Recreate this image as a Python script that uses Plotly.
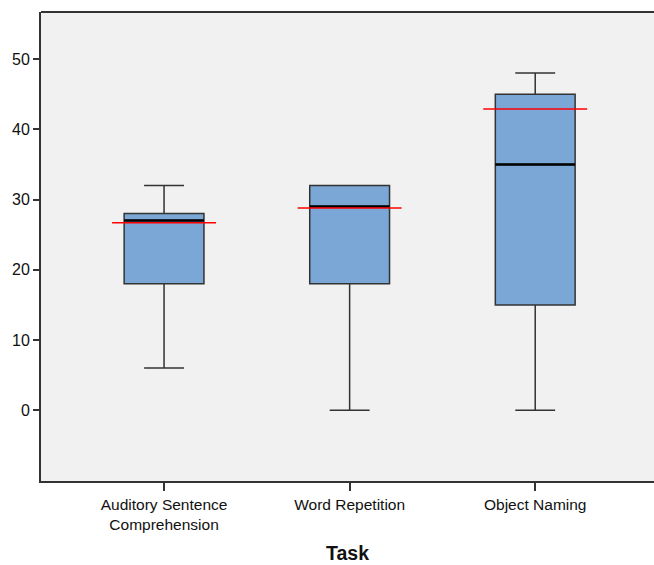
import plotly.graph_objects as go

categories = ["Auditory Sentence<br>Comprehension", "Word Repetition", "Object Naming"]
lower_whisker = [6, 0, 0]
q1 = [18, 18, 15]
median = [27, 29, 35]
q3 = [28, 32, 45]
upper_whisker = [32, 32, 48]
mean = [26.7, 28.8, 42.9]
y_ticks = [0, 10, 20, 30, 40, 50]

xpos = list(range(len(categories)))
box_w = 0.43
red_half = 0.28

fig = go.Figure()
fig.add_trace(go.Box(
    x=xpos, q1=q1, median=median, q3=q3,
    lowerfence=lower_whisker, upperfence=upper_whisker,
    width=box_w, whiskerwidth=0.5,
    fillcolor="#7aa7d6", line=dict(color="#333333", width=1.5),
    boxpoints=False, showlegend=False, hoverinfo="skip",
))
for i, x in enumerate(xpos):
    fig.add_trace(go.Scatter(
        x=[x - box_w / 2, x + box_w / 2], y=[median[i], median[i]],
        mode="lines", line=dict(color="#000000", width=2.5),
        showlegend=False, hoverinfo="skip"))
    fig.add_trace(go.Scatter(
        x=[x - red_half, x + red_half], y=[mean[i], mean[i]],
        mode="lines", line=dict(color="#ff0000", width=1.5),
        showlegend=False, hoverinfo="skip"))

fig.update_layout(
    width=654, height=565,
    margin=dict(l=41, r=0, t=12, b=84, autoexpand=False),
    paper_bgcolor="white", plot_bgcolor="#f1f1f1",
    font=dict(family="Liberation Sans, Arial, sans-serif", color="#111111"),
    xaxis=dict(
        range=[-0.663, 2.64], tickmode="array", tickvals=xpos, ticktext=categories,
        ticks="outside", ticklen=8, tickwidth=1.5, tickcolor="#333333",
        showline=True, linecolor="#333333", linewidth=2, showgrid=False, zeroline=False,
        tickfont=dict(size=15.5), automargin=False,
        title=dict(text="<b>Task</b>", font=dict(size=19.5), standoff=15),
    ),
    yaxis=dict(
        range=[-10.07, 56.7], tickmode="array", tickvals=y_ticks,
        ticks="outside", ticklen=6, tickwidth=1.5, tickcolor="#333333",
        showline=True, linecolor="#333333", linewidth=2, mirror=False,
        showgrid=False, zeroline=False, tickfont=dict(size=16), automargin=False,
    ),
    shapes=[dict(type="line", xref="paper", yref="paper", x0=0, x1=1, y0=1, y1=1,
                 line=dict(color="#333333", width=2))],
)
fig.write_html("out.html",
               config={"displayModeBar": False},
               post_script="document.body.style.margin='0';document.body.style.overflow='hidden';")
